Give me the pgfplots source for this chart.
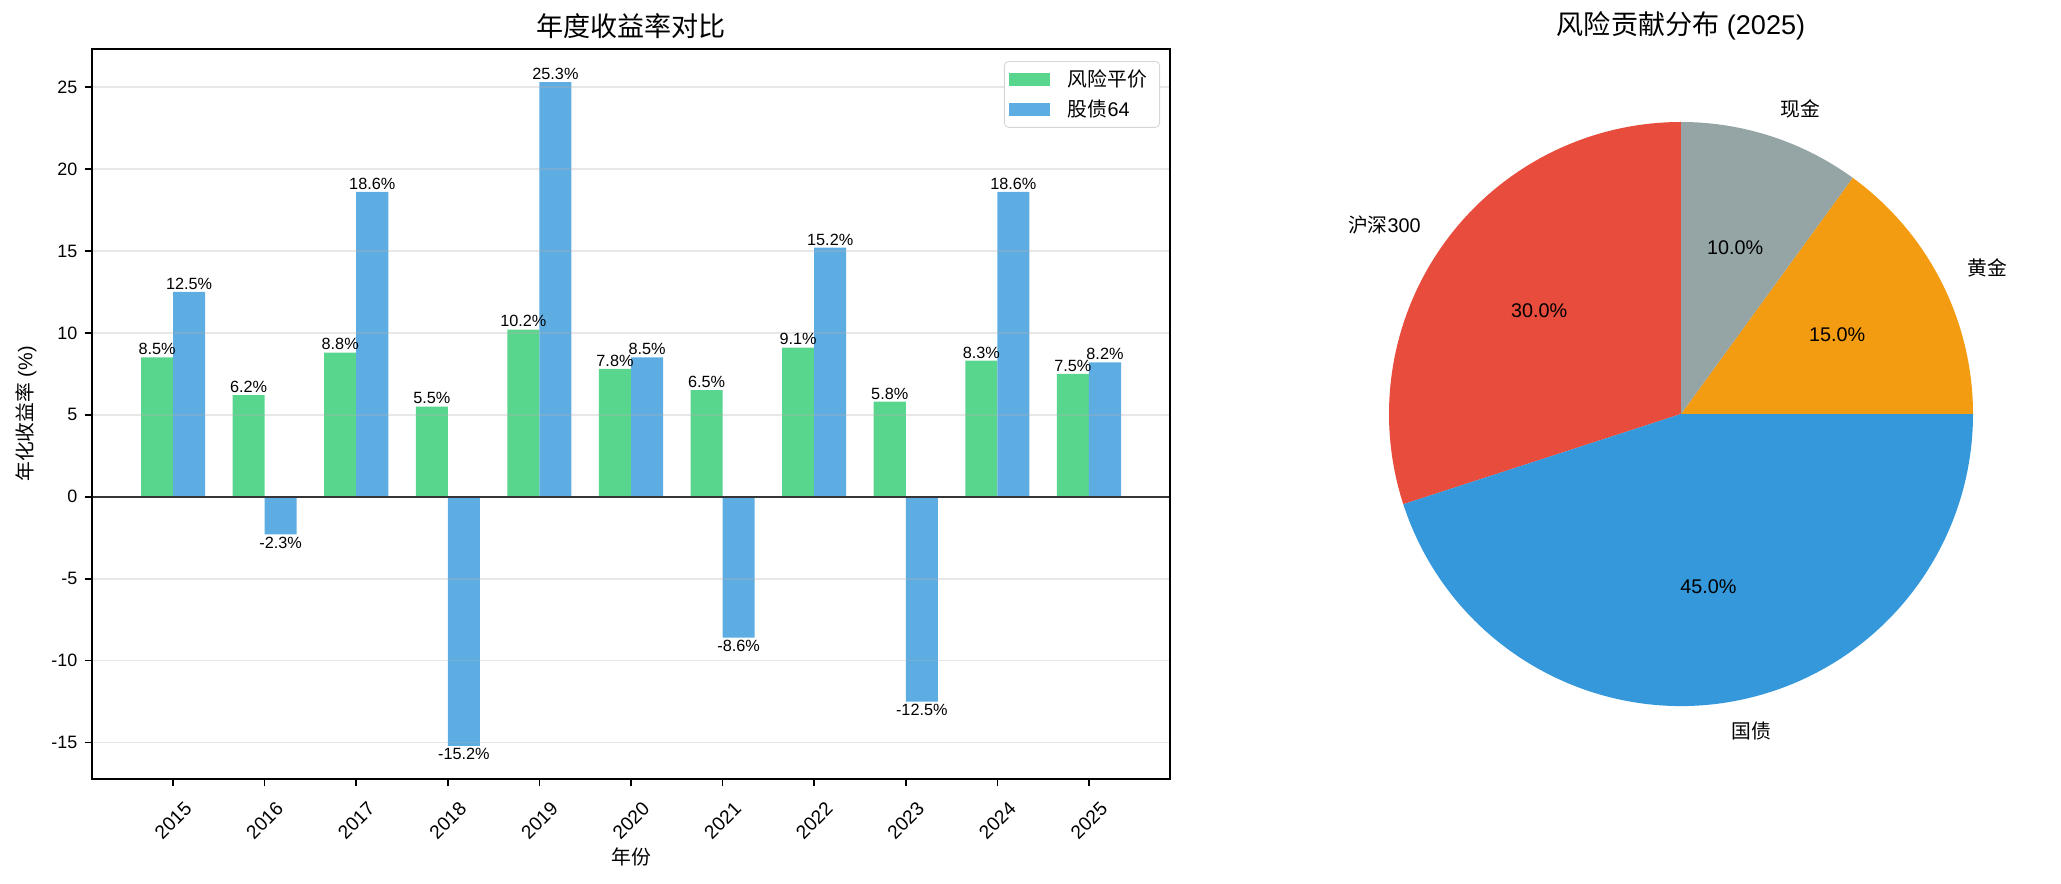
\documentclass[border=0pt]{standalone}
\usepackage{fontspec}
\setmainfont{Liberation Sans}
\newfontfamily\cjk{Noto Sans CJK SC}
\usepackage{pgfplots}
\usepackage{pgfplotstable}
\pgfplotsset{compat=1.18}

\definecolor{gBar}{RGB}{88,214,141}
\definecolor{bBar}{RGB}{93,173,226}
\definecolor{cHS}{HTML}{E74C3C}
\definecolor{cGZ}{HTML}{3498DB}
\definecolor{cHJ}{HTML}{F39C12}
\definecolor{cXJ}{HTML}{95A5A6}
\definecolor{gridc}{RGB}{176,176,176}
\definecolor{legframe}{RGB}{214,214,214}

\newcommand\fTitle{\fontsize{13bp}{16bp}\selectfont}
\newcommand\fLab{\fontsize{9.5bp}{11bp}\selectfont}
\newcommand\fTick{\fontsize{8.6bp}{10bp}\selectfont}
\newcommand\fXTick{\fontsize{9.2bp}{10bp}\selectfont}
\newcommand\fVal{\fontsize{7.8bp}{9bp}\selectfont}

\pgfplotstableread{
x g b gl bl
0 8.5 12.5 8.5\% 12.5\%
1 6.2 -2.3 6.2\% -2.3\%
2 8.8 18.6 8.8\% 18.6\%
3 5.5 -15.2 5.5\% -15.2\%
4 10.2 25.3 10.2\% 25.3\%
5 7.8 8.5 7.8\% 8.5\%
6 6.5 -8.6 6.5\% -8.6\%
7 9.1 15.2 9.1\% 15.2\%
8 5.8 -12.5 5.8\% -12.5\%
9 8.3 18.6 8.3\% 18.6\%
10 7.5 8.2 7.5\% 8.2\%
}\barsdata

% pie values (percent)
\def\pA{30}\def\pB{45}\def\pC{15}\def\pD{10}
\pgfmathsetmacro\sA{90}
\pgfmathsetmacro\sB{\sA+3.6*\pA}
\pgfmathsetmacro\sC{\sB+3.6*\pB}
\pgfmathsetmacro\sD{\sC+3.6*\pC}
\pgfmathsetmacro\sE{\sD+3.6*\pD}
\pgfmathsetmacro\mA{(\sA+\sB)/2}
\pgfmathsetmacro\mB{(\sB+\sC)/2}
\pgfmathsetmacro\mC{(\sC+\sD)/2}
\pgfmathsetmacro\mD{(\sD+\sE)/2}

\begin{document}
\begin{tikzpicture}
\path[use as bounding box] (0,0) rectangle (989.28bp,424.32bp);

\begin{axis}[
  at={(44.16bp,50.4bp)}, anchor=south west,
  width=517.44bp, height=350.4bp, scale only axis,
  xmin=-0.885, xmax=10.885, ymin=-17.225, ymax=27.325,
  ybar, bar width=0.35,
  xtick={0,...,10},
  xticklabels={2015,2016,2017,2018,2019,2020,2021,2022,2023,2024,2025},
  ytick={-15,-10,-5,0,5,10,15,20,25},
  yticklabels={-15,-10,-5,0,5,10,15,20,25},
  /pgf/number format/assume math mode=true,
  tick align=outside, major tick length=3.5bp, tick pos=left,
  tick style={black, line width=0.8bp},
  axis line style={black, line width=0.8bp},
  ymajorgrids, grid style={gridc, opacity=0.3, line width=0.8bp},
  axis on top,
  xticklabel style={font=\fXTick, yshift=-16.4bp, rotate=45, anchor=center},
  yticklabel style={font=\fTick},
  every axis title/.style={at={(axis description cs:0.5,1)}, yshift=11bp, anchor=center, font=\fTitle},
  title={{\cjk 年度收益率对比}},
  every axis x label/.style={at={(axis description cs:0.5,0)}, yshift=-37.4bp, anchor=center, font=\fLab},
  xlabel={{\cjk 年份}},
  every axis y label/.style={at={(axis description cs:0,0.5)}, xshift=-31.7bp, rotate=90, anchor=center, font=\fLab},
  ylabel={{\cjk 年化收益率} (\%)},
  legend style={at={(axis description cs:1,1)}, anchor=north east, xshift=-4.8bp, yshift=-5.8bp,
    draw=legframe, rounded corners=2bp, fill=white, font=\fLab,
    inner xsep=2bp, inner ysep=1.5bp, row sep=0bp,
    nodes={inner ysep=2.4bp, inner xsep=4bp}},
  legend cell align=left,
  nodes near coords style={font=\fVal, inner sep=1bp, text=black},
]
\addplot[fill=gBar, draw=none, bar shift=-0.175,
  nodes near coords, point meta=explicit symbolic,
  nodes near coords style={anchor=south},
  legend image code/.code={\fill[gBar, sharp corners] (0bp,-3.25bp) rectangle (19.7bp,3.25bp); \path (24.5bp,0bp);}]
  table[x=x, y=g, meta=gl]{\barsdata};
\addlegendentry{{\cjk 风险平价}}
\addplot[fill=bBar, draw=none, bar shift=0.175,
  nodes near coords, point meta=explicit symbolic,
  visualization depends on={\thisrow{b} \as \rawy},
  nodes near coords style={/utils/exec={\ifdim\rawy pt<0pt \gdef\myanch{north}\else\gdef\myanch{south}\fi}, anchor=\myanch},
  legend image code/.code={\fill[bBar, sharp corners] (0bp,-3.25bp) rectangle (19.7bp,3.25bp); \path (24.5bp,0bp);}]
  table[x=x, y=b, meta=bl]{\barsdata};
\addlegendentry{{\cjk 股债}64}
\draw[black, line width=0.8bp] (axis cs:-0.885,0) -- (axis cs:10.885,0);
\end{axis}

\node[font=\fTitle] at (806.88bp,411.8bp) {{\cjk 风险贡献分布} (2025)};

\begin{axis}[
  at={(806.88bp,225.6bp)}, anchor=center,
  width=420.48bp, height=420.48bp, scale only axis,
  xmin=-1.5, xmax=1.5, ymin=-1.5, ymax=1.5,
  hide axis, clip=false,
]
\fill[cHS] (axis cs:0,0) -- (axis cs:{cos(\sA)},{sin(\sA)}) arc[start angle=\sA, end angle=\sB, radius=140.16bp] -- cycle;
\fill[cGZ] (axis cs:0,0) -- (axis cs:{cos(\sB)},{sin(\sB)}) arc[start angle=\sB, end angle=\sC, radius=140.16bp] -- cycle;
\fill[cHJ] (axis cs:0,0) -- (axis cs:{cos(\sC)},{sin(\sC)}) arc[start angle=\sC, end angle=\sD, radius=140.16bp] -- cycle;
\fill[cXJ] (axis cs:0,0) -- (axis cs:{cos(\sD)},{sin(\sD)}) arc[start angle=\sD, end angle=\sE, radius=140.16bp] -- cycle;
\node[font=\fLab, anchor=east, inner xsep=0pt] at (axis cs:{1.1*cos(\mA)},{1.1*sin(\mA)}) {{\cjk 沪深}300};
\node[font=\fLab, anchor=west, inner xsep=0pt] at (axis cs:{1.1*cos(\mB)},{1.1*sin(\mB)}) {{\cjk 国债}};
\node[font=\fLab, anchor=west, inner xsep=0pt] at (axis cs:{1.1*cos(\mC)},{1.1*sin(\mC)}) {{\cjk 黄金}};
\node[font=\fLab, anchor=west, inner xsep=0pt] at (axis cs:{1.1*cos(\mD)},{1.1*sin(\mD)}) {{\cjk 现金}};
\node[font=\fLab] at (axis cs:{0.6*cos(\mA)},{0.6*sin(\mA)}) {30.0\%};
\node[font=\fLab] at (axis cs:{0.6*cos(\mB)},{0.6*sin(\mB)}) {45.0\%};
\node[font=\fLab] at (axis cs:{0.6*cos(\mC)},{0.6*sin(\mC)}) {15.0\%};
\node[font=\fLab] at (axis cs:{0.6*cos(\mD)},{0.6*sin(\mD)}) {10.0\%};
\end{axis}
\end{tikzpicture}
\end{document}
